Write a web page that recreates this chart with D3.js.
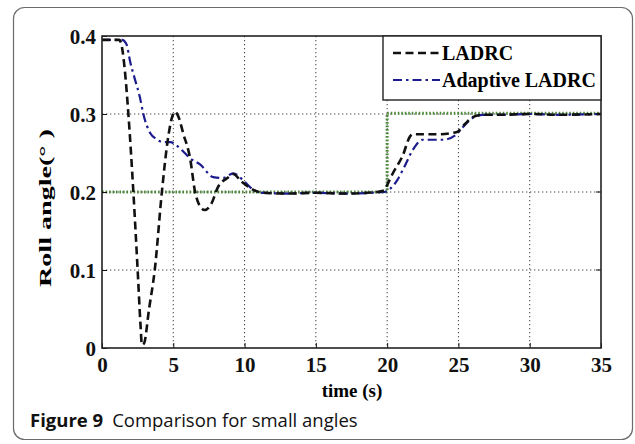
<!DOCTYPE html>
<html>
<head>
<meta charset="utf-8">
<script src="https://cdn.jsdelivr.net/npm/d3@7"></script>
<style>
  body { margin: 0; background: #fff; }
  svg { display: block; }
  .grid line { stroke: #444; stroke-width: 1; stroke-dasharray: 1.3,2.7; }
  .tick-label { font-family: "Liberation Serif", "Times New Roman", serif; font-weight: bold; font-size: 21px; fill: #111; }
</style>
</head>
<body>
<div id="chart"></div>
<script>
  // data
  let xTicks = [0, 5, 10, 15, 20, 25, 30, 35];
  let yTicks = [0, 0.1, 0.2, 0.3, 0.4];
  let yTickLabels = ["0", "0.1", "0.2", "0.3", "0.4"];

  let ladrcT = [0, 1.2, 1.35, 1.55, 1.85, 2.2, 2.5, 2.7, 2.8, 2.95, 3.3, 3.7, 4.2, 4.6, 4.9, 5.1, 5.35, 5.7, 6.2, 6.5, 6.9, 7.2, 7.7, 8.1, 8.8, 9.2, 9.8, 10.4, 11.3, 13, 15, 17, 19.3, 19.8, 20.0, 20.4, 21.1, 21.6, 21.8, 23.5, 24.9, 25.5, 26.0, 26.7, 28, 30, 32, 35];
  let ladrcY = [0.395, 0.395, 0.39, 0.365, 0.3, 0.2, 0.1, 0.03, 0.004, 0.006, 0.05, 0.1, 0.2, 0.265, 0.295, 0.303, 0.297, 0.275, 0.241, 0.203, 0.181, 0.177, 0.186, 0.205, 0.218, 0.223, 0.213, 0.205, 0.199, 0.198, 0.199, 0.198, 0.2, 0.202, 0.209, 0.224, 0.247, 0.271, 0.274, 0.274, 0.277, 0.288, 0.296, 0.299, 0.299, 0.3, 0.299, 0.3];

  let adaptiveT = [0, 1.4, 1.7, 2.0, 2.3, 2.65, 2.9, 3.4, 3.8, 4.3, 4.8, 5.2, 5.7, 6.2, 6.9, 7.8, 8.5, 9.2, 9.9, 10.6, 11.3, 13, 15, 17, 19.8, 20.2, 20.7, 21.2, 21.8, 22.5, 23.9, 24.8, 25.3, 26.0, 26.7, 28, 30, 32, 35];
  let adaptiveY = [0.395, 0.395, 0.39, 0.365, 0.345, 0.322, 0.3, 0.275, 0.268, 0.264, 0.264, 0.26, 0.252, 0.243, 0.235, 0.219, 0.218, 0.224, 0.215, 0.203, 0.199, 0.198, 0.199, 0.198, 0.2, 0.204, 0.215, 0.232, 0.254, 0.267, 0.267, 0.273, 0.283, 0.295, 0.299, 0.299, 0.3, 0.299, 0.3];

  let refT = [0, 20, 20, 35];
  let refY = [0.2, 0.2, 0.301, 0.301];

  let seriesNames = ["LADRC", "Adaptive LADRC"];

  // layout
  let width = 635, height = 444;
  let plot = { left: 102, right: 601, top: 36, bottom: 348 };

  let svg = d3.select("#chart").append("svg")
              .attr("width", width)
              .attr("height", height);

  // card frame
  svg.append("rect")
     .attr("x", 13.5).attr("y", 7.5)
     .attr("width", 619).attr("height", 432)
     .attr("rx", 11).attr("ry", 11)
     .attr("fill", "#fff")
     .attr("stroke", "#6b6b6b")
     .attr("stroke-width", 1.2);

  let x = d3.scaleLinear().domain([0, 35]).range([plot.left, plot.right]);
  let y = d3.scaleLinear().domain([0, 0.4]).range([plot.bottom, plot.top]);

  // grid
  let grid = svg.append("g").attr("class", "grid");
  grid.selectAll(".gx")
      .data(xTicks.slice(1, -1))
      .enter()
      .append("line")
      .attr("x1", d => x(d)).attr("x2", d => x(d))
      .attr("y1", plot.top).attr("y2", plot.bottom);
  grid.selectAll(".gy")
      .data(yTicks.slice(1, -1))
      .enter()
      .append("line")
      .attr("x1", plot.left).attr("x2", plot.right)
      .attr("y1", d => y(d)).attr("y2", d => y(d));

  svg.append("clipPath").attr("id", "clip")
     .append("rect")
     .attr("x", plot.left).attr("y", plot.top - 2)
     .attr("width", plot.right - plot.left).attr("height", plot.bottom - plot.top + 2);

  let lines = svg.append("g").attr("clip-path", "url(#clip)");

  let refLine = d3.line().x(d => x(d[0])).y(d => y(d[1]));
  lines.append("path")
       .datum(d3.zip(refT, refY))
       .attr("d", refLine)
       .attr("fill", "none")
       .attr("stroke", "#4f8a3c")
       .attr("stroke-width", 3)
       .attr("stroke-dasharray", "1.6,1.9");

  let curve = d3.line()
                .x(d => x(d[0]))
                .y(d => y(d[1]))
                .curve(d3.curveMonotoneX);

  lines.append("path")
       .datum(d3.zip(adaptiveT, adaptiveY))
       .attr("d", curve)
       .attr("fill", "none")
       .attr("stroke", "#1c1c8e")
       .attr("stroke-width", 2.2)
       .attr("stroke-dasharray", "9,4,2.5,4");

  lines.append("path")
       .datum(d3.zip(ladrcT, ladrcY))
       .attr("d", curve)
       .attr("fill", "none")
       .attr("stroke", "#111")
       .attr("stroke-width", 2.6)
       .attr("stroke-dasharray", "8,4.5");

  // axes (MATLAB-style inward ticks)
  let xAxis = d3.axisBottom(x).tickValues(xTicks).tickSize(-5).tickFormat(d3.format("d"));
  let yAxis = d3.axisLeft(y).tickValues(yTicks).tickSize(-5).tickFormat((d, i) => yTickLabels[i]);

  let gx = svg.append("g")
              .attr("transform", "translate(0," + plot.bottom + ")")
              .call(xAxis);
  gx.select(".domain").remove();
  gx.selectAll("text").attr("class", "tick-label").attr("dy", null).attr("y", 24);

  let gy = svg.append("g")
              .attr("transform", "translate(" + plot.left + ",0)")
              .call(yAxis);
  gy.select(".domain").remove();
  gy.selectAll("text").attr("class", "tick-label").attr("x", -6).attr("dy", "0.35em");

  // right-side ticks
  svg.append("g").selectAll("line")
     .data(yTicks.slice(1, -1))
     .enter()
     .append("line")
     .attr("x1", plot.right - 5).attr("x2", plot.right)
     .attr("y1", d => y(d)).attr("y2", d => y(d))
     .attr("stroke", "#111");

  svg.selectAll(".tick line").attr("stroke", "#111");

  // frame
  svg.append("rect")
     .attr("x", plot.left).attr("y", plot.top)
     .attr("width", plot.right - plot.left).attr("height", plot.bottom - plot.top)
     .attr("fill", "none")
     .attr("stroke", "#222")
     .attr("stroke-width", 1.6);

  // axis titles
  svg.append("text")
     .attr("x", 352).attr("y", 397)
     .attr("text-anchor", "middle")
     .style("font-family", "Liberation Serif, serif")
     .style("font-weight", "bold")
     .style("font-size", "19px")
     .text("time (s)");

  svg.append("text")
     .attr("transform", "translate(51,208) rotate(-90)")
     .attr("text-anchor", "middle")
     .attr("textLength", 158)
     .attr("lengthAdjust", "spacingAndGlyphs")
     .style("font-family", "Liberation Serif, serif")
     .style("font-weight", "bold")
     .style("font-size", "17px")
     .text("Roll angle(\u00b0 )");

  // legend
  let legend = svg.append("g");
  legend.append("rect")
        .attr("x", 383).attr("y", plot.top)
        .attr("width", plot.right - 383).attr("height", 64)
        .attr("fill", "#fff")
        .attr("stroke", "#222")
        .attr("stroke-width", 1.4);

  let legendStyles = [
    { stroke: "#111", dash: "8,4.5", w: 2.6 },
    { stroke: "#1c1c8e", dash: "9,4,2.5,4", w: 2.2 }
  ];
  let legendRows = legend.selectAll(".row")
                         .data(seriesNames)
                         .enter()
                         .append("g")
                         .attr("transform", (d, i) => "translate(0," + (53 + i * 27) + ")");
  legendRows.append("line")
            .attr("x1", 393).attr("x2", 440)
            .attr("y1", 0).attr("y2", 0)
            .attr("stroke", (d, i) => legendStyles[i].stroke)
            .attr("stroke-width", (d, i) => legendStyles[i].w)
            .attr("stroke-dasharray", (d, i) => legendStyles[i].dash);
  legendRows.append("text")
            .attr("x", 442).attr("y", 7)
            .style("font-family", "Liberation Serif, serif")
            .style("font-weight", "bold")
            .style("font-size", "20px")
            .text(d => d);

  // caption
  let caption = svg.append("text")
                   .attr("x", 30).attr("y", 427)
                   .style("font-family", "Open Sans, Noto Sans, sans-serif")
                   .style("font-size", "18.5px")
                   .style("fill", "#111");
  caption.append("tspan").style("font-weight", "bold").text("Figure 9");
  caption.append("tspan").attr("dx", 9).text("Comparison for small angles");
</script>
</body>
</html>
